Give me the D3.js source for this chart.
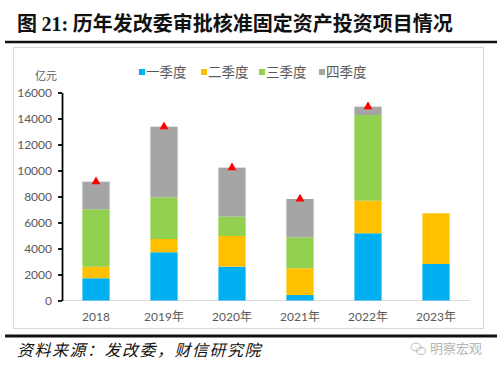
<!DOCTYPE html>
<html><head><meta charset="utf-8">
<script src="https://cdn.jsdelivr.net/npm/d3@7"></script>
<style>
html,body{margin:0;padding:0;background:#fff;}
svg{display:block;}
</style></head>
<body>
<svg id="c" width="500" height="366"></svg>
<script>
const categories = ["2018", "2019年", "2020年", "2021年", "2022年", "2023年"];
const seriesNames = ["一季度", "二季度", "三季度", "四季度"];
const q1 = [1710, 3710, 2600, 420, 5170, 2810];
const q2 = [890, 1020, 2360, 2060, 2510, 3900];
const q3 = [4420, 3210, 1490, 2380, 6590, 0];
const q4 = [2120, 5430, 3770, 2950, 640, 0];
const yearTotal = [9140, 13370, 10220, 7810, 14910, null];
const yTicks = [0, 2000, 4000, 6000, 8000, 10000, 12000, 14000, 16000];
const colors = ["#00B0F0", "#FFC000", "#92D050", "#A5A5A5"];

const svg = d3.select("#c");
const numFont = "Lato, 'Noto Sans CJK SC', sans-serif";
const cjk = "'Noto Sans CJK SC', sans-serif";

// Title
const title = svg.append("text").attr("x", 17).attr("y", 31)
  .attr("font-family", "'Liberation Serif','Noto Sans CJK SC',serif")
  .attr("font-weight", "bold").attr("font-size", 20).attr("fill", "#111");
title.append("tspan").text("图 ").attr("font-family", cjk);
title.append("tspan").text("21:").attr("font-family", "'Liberation Serif',serif");
title.append("tspan").text(" 历年发改委审批核准固定资产投资项目情况").attr("font-family", cjk);

svg.append("line").attr("x1", 5).attr("x2", 497).attr("y1", 42).attr("y2", 42)
  .attr("stroke", "#111").attr("stroke-width", 2.5);

// Frame
svg.append("rect").attr("x", 13.5).attr("y", 47.5).attr("width", 470).attr("height", 281)
  .attr("fill", "none").attr("stroke", "#d9d9d9").attr("stroke-width", 1.2);

// Scales
const x = d3.scaleBand().domain(categories).range([62, 470]).paddingInner(0.6).paddingOuter(0.3);
const y = d3.scaleLinear().domain([0, 16000]).range([300.5, 92.5]);

// stacked data
const rows = categories.map((c, i) => ({cat: c, s0: q1[i], s1: q2[i], s2: q3[i], s3: q4[i]}));
const stack = d3.stack().keys(["s0", "s1", "s2", "s3"])(rows);

// x axis line
svg.append("line").attr("x1", 62).attr("x2", 470).attr("y1", y(0)).attr("y2", y(0))
  .attr("stroke", "#d9d9d9").attr("stroke-width", 1.2);

svg.append("g").selectAll("g").data(stack).join("g")
  .attr("fill", (d, i) => colors[i])
  .selectAll("rect").data(d => d.filter(p => p[1] - p[0] > 0)).join("rect")
  .attr("x", d => x(d.data.cat))
  .attr("width", x.bandwidth())
  .attr("y", d => y(d[1]))
  .attr("height", d => y(d[0]) - y(d[1]));

// Triangles
svg.append("g").selectAll("path")
  .data(categories.map((c, i) => ({cat: c, v: yearTotal[i]})).filter(d => d.v != null))
  .join("path")
  .attr("d", d3.symbol(d3.symbolTriangle, 34))
  .attr("transform", d => `translate(${x(d.cat) + x.bandwidth() / 2},${y(d.v)})`)
  .attr("fill", "#FF0000");

// Y axis
const yAxis = svg.append("g").attr("transform", "translate(62,0)")
  .call(d3.axisLeft(y).tickValues(yTicks).tickFormat(d3.format("d")).tickSize(4).tickSizeOuter(0).tickPadding(6));
yAxis.select(".domain").attr("stroke", "#000").attr("stroke-width", 1.8);
yAxis.selectAll(".tick line").attr("stroke", "#000").attr("stroke-width", 1.8);
yAxis.selectAll(".tick text").attr("font-family", numFont).attr("font-size", 12).attr("fill", "#595959");

svg.append("text").attr("x", 46).attr("y", 80).attr("text-anchor", "middle")
  .attr("font-family", cjk).attr("font-size", 11).attr("fill", "#595959").text("亿元");

// X labels
const xAxis = svg.append("g").attr("transform", `translate(0,${y(0)})`)
  .call(d3.axisBottom(x).tickSize(0).tickPadding(12));
xAxis.select(".domain").remove();
xAxis.selectAll(".tick text").attr("font-family", numFont).attr("font-size", 12).attr("fill", "#595959");

// Legend
const legX = [139, 201, 259, 319];
const leg = svg.append("g").selectAll("g").data(seriesNames).join("g")
  .attr("transform", (d, i) => `translate(${legX[i]},0)`);
leg.append("rect").attr("x", 0).attr("y", 69).attr("width", 6).attr("height", 6)
  .attr("fill", (d, i) => colors[i]);
leg.append("text").attr("x", 7).attr("y", 77).attr("font-family", cjk).attr("font-size", 13.5)
  .attr("fill", "#595959").text(d => d);

// Footer
svg.append("line").attr("x1", 5).attr("x2", 497).attr("y1", 336).attr("y2", 336)
  .attr("stroke", "#111").attr("stroke-width", 3);
svg.append("text").attr("x", 17).attr("y", 356)
  .attr("font-family", cjk).attr("font-style", "italic").attr("font-size", 16)
  .attr("letter-spacing", 1.5).attr("fill", "#111").text("资料来源：发改委，财信研究院");

// watermark
const wm = svg.append("g").attr("fill", "none").attr("stroke", "#bbb").attr("stroke-width", 1);
wm.append("ellipse").attr("cx", 416).attr("cy", 347).attr("rx", 5).attr("ry", 4);
wm.append("ellipse").attr("cx", 421).attr("cy", 351).attr("rx", 4.5).attr("ry", 3.5);
svg.append("text").attr("x", 430).attr("y", 353).attr("font-family", cjk).attr("font-size", 13)
  .attr("fill", "#b5b5b5").text("明察宏观");
</script>
</body></html>
